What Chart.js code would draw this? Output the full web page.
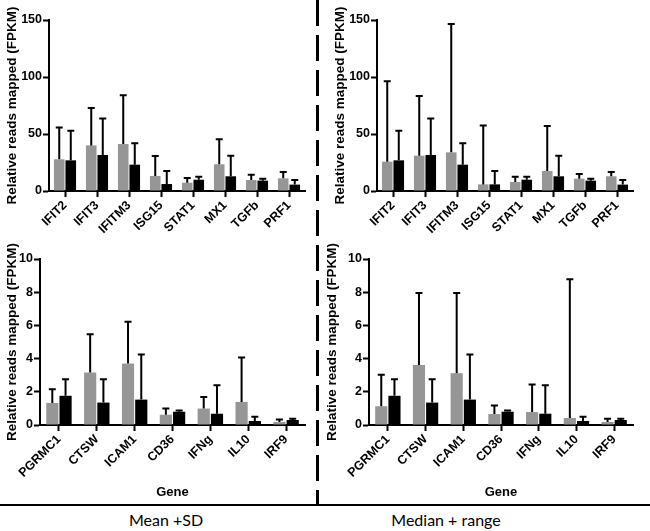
<!DOCTYPE html>
<html>
<head>
<meta charset="utf-8">
<script src="https://cdn.jsdelivr.net/npm/chart.js@4"></script>
<style>
  body { margin: 0; background: #fff; }
  #page { position: relative; width: 650px; height: 531px; overflow: hidden; background: #fff; }
  .panel { position: absolute; }
  #divider {
    position: absolute; left: 316px; top: 0; width: 3px; height: 506px;
    background: repeating-linear-gradient(to bottom, #000 0, #000 26px, transparent 26px, transparent 35px);
  }
  #baseline { position: absolute; left: 0; top: 504px; width: 650px; height: 2px; background: #000; }
  .foot { position: absolute; top: 510px; font-family: Lato, "Open Sans", sans-serif; font-size: 16px; color: #000; transform: translateX(-50%); white-space: nowrap; }
</style>
</head>
<body>
<div id="page">
  <div class="panel" style="left:0;top:0;width:310px;height:240px"><canvas id="tl"></canvas></div>
  <div class="panel" style="left:328px;top:0;width:310px;height:240px"><canvas id="tr"></canvas></div>
  <div class="panel" style="left:0;top:240px;width:310px;height:262px"><canvas id="bl"></canvas></div>
  <div class="panel" style="left:320px;top:240px;width:318px;height:262px"><canvas id="br"></canvas></div>
  <div id="divider"></div>
  <div id="baseline"></div>
  <div class="foot" style="left:166px">Mean +SD</div>
  <div class="foot" style="left:446px">Median + range</div>
</div>
<script>
// genes shown in the top and bottom rows
const topGenes = ['IFIT2', 'IFIT3', 'IFITM3', 'ISG15', 'STAT1', 'MX1', 'TGFb', 'PRF1'];
const bottomGenes = ['PGRMC1', 'CTSW', 'ICAM1', 'CD36', 'IFNg', 'IL10', 'IRF9'];

// mean +SD (left column): bar heights and top of error bar
const meanGreyTop = [27.8, 40.0, 41.2, 13.2, 7.3, 23.4, 9.6, 11.1];
const meanGreyTopErr = [55.6, 72.8, 83.9, 30.7, 11.4, 45.3, 14.3, 16.7];
const meanBlackTop = [26.9, 31.6, 23.1, 6.1, 9.9, 12.9, 9.1, 5.6];
const meanBlackTopErr = [52.9, 63.5, 41.8, 17.5, 12.6, 31.0, 10.8, 9.6];
const meanGreyBottom = [1.33, 3.16, 3.70, 0.62, 0.99, 1.39, 0.18];
const meanGreyBottomErr = [2.15, 5.47, 6.22, 1.00, 1.68, 4.06, 0.33];
const meanBlackBottom = [1.76, 1.35, 1.53, 0.80, 0.68, 0.24, 0.30];
const meanBlackBottomErr = [2.75, 2.75, 4.25, 0.88, 2.40, 0.50, 0.38];

// median + range (right column)
const medGreyTop = [25.7, 31.0, 33.9, 5.8, 7.9, 17.5, 10.8, 12.9];
const medGreyTopErr = [96.2, 83.3, 146.5, 57.5, 12.6, 57.0, 14.9, 16.7];
const medBlackTop = [26.9, 31.6, 23.1, 5.8, 9.9, 12.9, 9.1, 5.6];
const medBlackTopErr = [52.9, 63.5, 41.8, 17.5, 12.6, 31.0, 10.8, 9.6];
const medGreyBottom = [1.13, 3.62, 3.12, 0.66, 0.78, 0.42, 0.18];
const medGreyBottomErr = [3.02, 7.95, 7.95, 1.18, 2.44, 8.78, 0.38];
const medBlackBottom = [1.76, 1.35, 1.53, 0.80, 0.68, 0.24, 0.30];
const medBlackBottomErr = [2.75, 2.75, 4.25, 0.88, 2.40, 0.50, 0.38];

const topTicks = [0, 50, 100, 150];
const bottomTicks = [0, 2, 4, 6, 8, 10];

const GREY = 'rgb(150,150,150)';
const FAMILY = "'Liberation Sans', Arial, sans-serif";
const boldFont = { family: FAMILY, size: 12.5, weight: 'bold' };

// draws the upward error bar with a cap, using the chart's own y scale
const errorBars = {
  id: 'errorBars',
  afterDatasetsDraw(chart) {
    const ctx = chart.ctx;
    const y = chart.scales.y;
    ctx.save();
    ctx.strokeStyle = '#000';
    ctx.lineWidth = 2;
    chart.data.datasets.forEach((ds, di) => {
      const meta = chart.getDatasetMeta(di);
      meta.data.forEach((bar, i) => {
        const top = y.getPixelForValue(ds.errTop[i]);
        ctx.beginPath();
        ctx.moveTo(bar.x, bar.y);
        ctx.lineTo(bar.x, top);
        ctx.moveTo(bar.x - 3.5, top);
        ctx.lineTo(bar.x + 3.5, top);
        ctx.stroke();
      });
    });
    ctx.restore();
  }
};

function makePanel(id, genes, grey, greyErr, black, blackErr, ticks, opts) {
  const ctx = document.getElementById(id).getContext('2d');
  return new Chart(ctx, {
    type: 'bar',
    data: {
      labels: genes,
      datasets: [
        { data: grey, errTop: greyErr, backgroundColor: GREY },
        { data: black, errTop: blackErr, backgroundColor: '#000' }
      ]
    },
    options: {
      responsive: true,
      maintainAspectRatio: false,
      animation: false,
      categoryPercentage: opts.catPct,
      barPercentage: 0.92,
      layout: { padding: { top: opts.padTop, right: 5, left: 0, bottom: 0 } },
      plugins: { legend: { display: false }, tooltip: { enabled: false } },
      scales: {
        x: {
          grid: { display: true, offset: false, drawOnChartArea: false, drawTicks: true, tickLength: 6, tickWidth: 2, tickColor: '#000' },
          border: { display: true, color: '#000', width: 2 },
          ticks: { color: '#000', font: boldFont, minRotation: 45, maxRotation: 45, padding: 1, autoSkip: false },
          title: { display: opts.gene, text: 'Gene', color: '#000', font: { family: FAMILY, size: 13, weight: 'bold' }, padding: { top: 0, bottom: 2 } },
          afterFit(scale) { scale.height = opts.xHeight; }
        },
        y: {
          min: 0,
          max: ticks[ticks.length - 1],
          afterBuildTicks(scale) { scale.ticks = ticks.map(v => ({ value: v })); },
          grid: { display: true, drawOnChartArea: false, drawTicks: true, tickLength: 6, tickWidth: 2, tickColor: '#000' },
          border: { display: true, color: '#000', width: 2 },
          ticks: { color: '#000', font: boldFont, padding: 1 },
          title: { display: true, text: 'Relative reads mapped (FPKM)', color: '#000', font: { family: FAMILY, size: 13.5, weight: 'bold' }, padding: { top: 4, bottom: 0 } },
          afterFit(scale) { scale.width = opts.yWidth; }
        }
      }
    },
    plugins: [errorBars]
  });
}

makePanel('tl', topGenes, meanGreyTop, meanGreyTopErr, meanBlackTop, meanBlackTopErr, topTicks,
  { catPct: 0.72, padTop: 20, xHeight: 49, yWidth: 49, gene: false });
makePanel('tr', topGenes, medGreyTop, medGreyTopErr, medBlackTop, medBlackTopErr, topTicks,
  { catPct: 0.72, padTop: 20, xHeight: 49, yWidth: 49, gene: false });
makePanel('bl', bottomGenes, meanGreyBottom, meanGreyBottomErr, meanBlackBottom, meanBlackBottomErr, bottomTicks,
  { catPct: 0.7, padTop: 19, xHeight: 77, yWidth: 40, gene: true });
makePanel('br', bottomGenes, medGreyBottom, medGreyBottomErr, medBlackBottom, medBlackBottomErr, bottomTicks,
  { catPct: 0.7, padTop: 19, xHeight: 77, yWidth: 49, gene: true });
</script>
</body>
</html>
